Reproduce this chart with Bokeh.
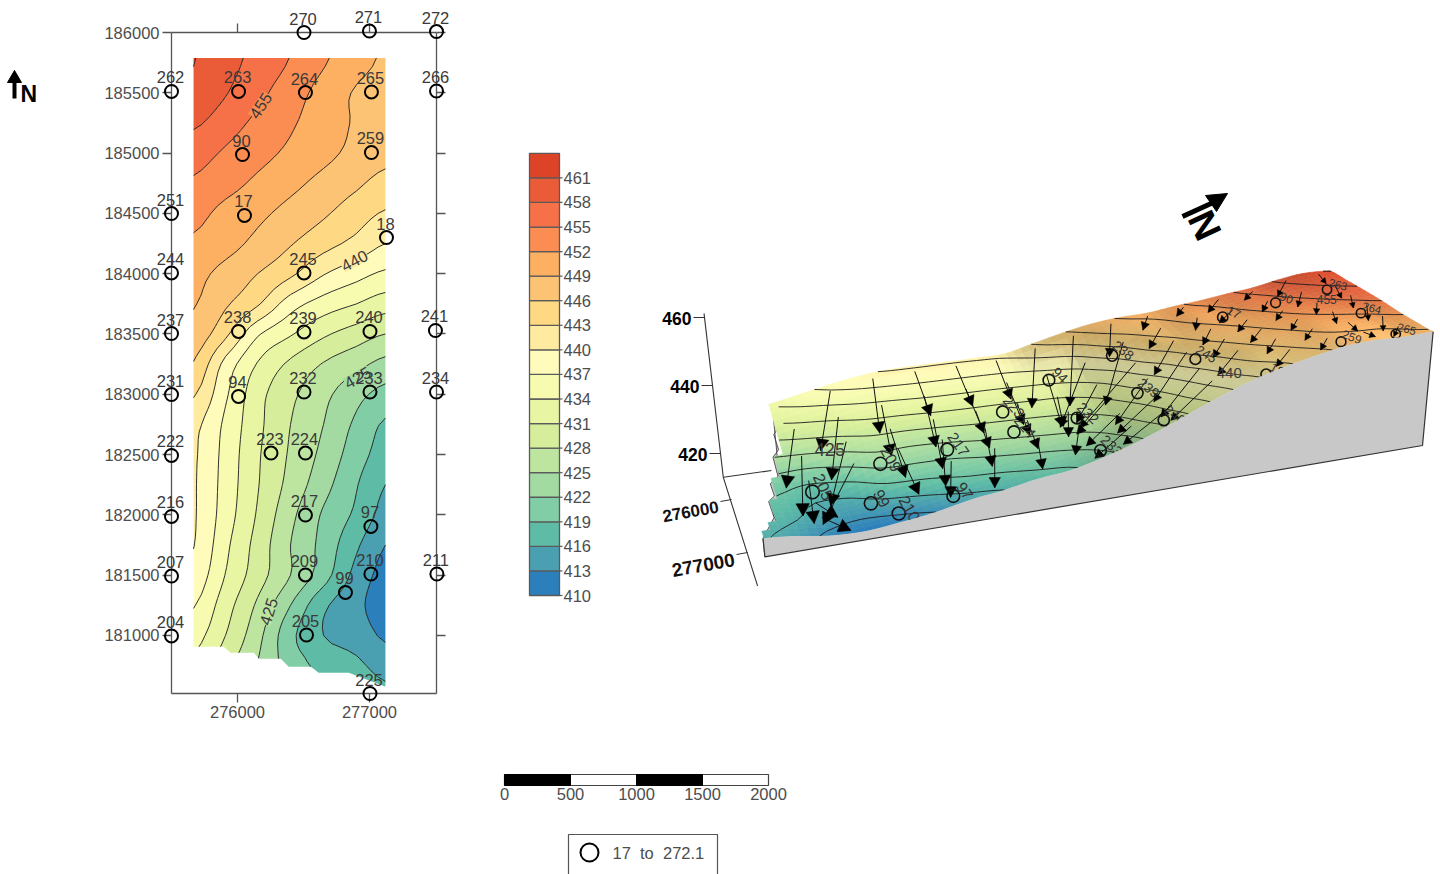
import numpy as np
from bokeh.core.properties import value
from bokeh.embed import file_html
from bokeh.layouts import column, row
from bokeh.models import BasicTickFormatter, FixedTicker, LinearAxis, Range1d
from bokeh.plotting import figure
from bokeh.plotting.contour import contour_data
from bokeh.resources import INLINE

# ---------- data ----------
grid_x = [275667, 275909, 276152, 276402, 276652, 276902, 277121]
grid_y = [185789, 185500, 185250, 185000, 184750, 184500, 184250, 184000, 183750, 183500, 183250,
          183000, 182750, 182500, 182250, 182000, 181750, 181500, 181250, 181000, 180750, 180519]
head_rows = [
    [461.1, 459.1, 457.1, 454.9, 452.4, 450.3, 448.6],
    [460.4, 458.2, 455.8, 453.4, 450.9, 448.7, 447.8],
    [458.5, 456.4, 454.3, 452.4, 450.4, 448.7, 447.7],
    [456.2, 454.6, 453.0, 451.4, 449.8, 448.2, 446.9],
    [454.6, 453.1, 451.4, 449.8, 448.1, 446.5, 445.0],
    [452.9, 451.1, 449.7, 448.0, 446.4, 444.4, 442.7],
    [451.5, 450.1, 448.2, 446.2, 444.1, 442.1, 440.0],
    [449.9, 448.0, 446.0, 443.6, 440.2, 438.1, 436.5],
    [449.2, 446.4, 443.4, 438.4, 435.7, 434.0, 432.4],
    [447.9, 443.7, 437.4, 434.3, 431.5, 429.6, 428.0],
    [445.8, 439.0, 433.8, 430.4, 427.8, 425.9, 424.1],
    [443.3, 437.5, 432.1, 428.7, 425.8, 423.0, 421.0],
    [440.8, 436.4, 431.8, 428.0, 425.0, 421.4, 418.6],
    [440.4, 436.0, 431.4, 427.6, 424.2, 420.4, 417.7],
    [440.3, 435.8, 431.2, 427.0, 423.1, 419.2, 416.0],
    [440.3, 435.5, 430.7, 425.8, 421.6, 418.4, 414.9],
    [440.1, 434.7, 429.9, 425.0, 421.0, 416.5, 413.0],
    [439.0, 433.9, 429.4, 425.0, 420.3, 415.0, 412.0],
    [437.2, 432.3, 427.5, 422.0, 416.6, 413.8, 411.4],
    [435.2, 431.0, 426.0, 419.8, 416.0, 414.7, 412.5],
    [433.3, 428.9, 424.8, 420.5, 418.2, 416.6, 415.0],
    [431.0, 427.0, 423.0, 419.5, 418.5, 417.5, 416.5],
]
blank_edge_x = [275667, 275894, 275947, 276121, 276159, 276326, 276386, 276553, 276614, 276841, 277121]
blank_edge_y = [180900, 180900, 180851, 180851, 180801, 180801, 180735, 180735, 180685, 180685, 180569]

well_names = ["262", "263", "264", "265", "266", "270", "271", "272", "90", "259", "251", "17", "18",
              "244", "245", "237", "238", "239", "240", "241", "231", "94", "232", "233", "234",
              "222", "223", "224", "216", "217", "97", "207", "209", "210", "211", "99", "204",
              "205", "225"]
well_x = [275500, 276008, 276515, 277015, 277508, 276504, 277000, 277508, 276038, 277015, 275500, 276053,
          277129, 275500, 276504, 275500, 276008, 276504, 277004, 277500, 275500, 276008, 276504, 277004,
          277508, 275500, 276254, 276515, 275500, 276515, 277011, 275500, 276515, 277011, 277511, 276818,
          275500, 276523, 277004]
well_y = [185511, 185511, 185502, 185507, 185515, 186000, 186012, 186008, 184988, 185005, 184499, 184483,
          184300, 184006, 184006, 183504, 183521, 183517, 183521, 183529, 182998, 182982, 183019, 183019,
          183019, 182493, 182513, 182513, 181987, 181999, 181904, 181493, 181502, 181510, 181510, 181357,
          180996, 181004, 180519]

contour_label_text = ["455", "440", "425", "425"]
contour_label_x = [276174, 276886, 276235, 276909]
contour_label_y = [185395, 184109, 181199, 183139]
contour_label_angle = [57, 28, 72, 30]
contour_label_bg = ["#fb8d52", "#feeb9f", "#bde5a0", "#a2daa2"]

levels = [410, 413, 416, 419, 422, 425, 428, 431, 434, 437, 440, 443, 446, 449, 452, 455, 458, 461, 464]
band_colors = ["#2b7fbb", "#4aa0b0", "#5ebca6", "#80cda6", "#a2daa2", "#bde5a0", "#d6ee9b", "#e8f6a3",
               "#f6fbb0", "#fffcbb", "#feeb9f", "#fed883", "#fdc374", "#fdaf62", "#fb8d52", "#f77148",
               "#ea5c38", "#dd4327"]
bar_labels = levels[:-1]

left_ticks = [181000, 181500, 182000, 182500, 183000, 183500, 184000, 184500, 185000, 185500, 186000]
bottom_ticks = [276000, 277000]
scale_ticks = [0, 500, 1000, 1500, 2000]
scale_black = [(0, 500), (1000, 1500)]
z_ticks = [420, 440, 460]
x3d_ticks = [276000, 277000]
arrow_tail_x = [275730, 275960, 276190, 276420, 276650, 276880]
arrow_tail_y = [181000, 181330, 181660, 181990, 182320, 182650, 182980, 183310, 183640, 183970,
                184300, 184630, 184960, 185290, 185620]
legend_text = "17\u00a0\u00a0to\u00a0\u00a0272.1"

FONT = value("Liberation Sans")
GREY = "#4d4d4d"
TXT = "16.5px"


# ---------- smoothing of the read grid for drawing ----------
def cr_axis(a, k):
    n = a.shape[0]
    s = np.linspace(0, n - 1, (n - 1) * k + 1)
    i = np.minimum(s.astype(int), n - 2)
    t = (s - i).reshape((-1,) + (1,) * (a.ndim - 1))
    p0, p1, p2, p3 = a[np.maximum(i - 1, 0)], a[i], a[i + 1], a[np.minimum(i + 2, n - 1)]
    return 0.5 * (2 * p1 + (p2 - p0) * t + (2 * p0 - 5 * p1 + 4 * p2 - p3) * t ** 2 + (3 * p1 - p0 - 3 * p2 + p3) * t ** 3)


K = 4
gx = np.array(grid_x, float)
gy = np.array(grid_y, float)[::-1]
gz = np.array(head_rows, float)[::-1]
fz = cr_axis(cr_axis(gz, K).T, K).T
fx = np.interp(np.linspace(0, len(gx) - 1, (len(gx) - 1) * K + 1), np.arange(len(gx)), gx)
fy = np.interp(np.linspace(0, len(gy) - 1, (len(gy) - 1) * K + 1), np.arange(len(gy)), gy)


def z_at(x, y):
    i = int(np.argmin(np.abs(fy - y)))
    j = int(np.argmin(np.abs(fx - x)))
    return fz[i, j]


def edge_at(x):
    return np.interp(x, blank_edge_x, blank_edge_y)


# ---------- oblique view of the surface ----------
XW, XE, YS, YN = gx[0], gx[-1], 180520.0, gy[-1]
Z0, ZS = 410.0, 2.95
C_SW, C_SE, C_NE, C_NW = (728, 483), (757, 558), (1422, 445), (1320, 421)


def project(x, y, z):
    u = (np.asarray(x, float) - XW) / (XE - XW)
    v0 = (np.asarray(y, float) - YS) / (YN - YS)
    v = v0 + 0.2 * v0 * (1 - v0)
    bx = (1 - u) * ((1 - v) * C_SW[0] + v * C_NW[0]) + u * ((1 - v) * C_SE[0] + v * C_NE[0])
    by = (1 - u) * ((1 - v) * C_SW[1] + v * C_NW[1]) + u * ((1 - v) * C_SE[1] + v * C_NE[1]) - 40 * v0 * (1 - v0)
    h = (np.asarray(z, float) - Z0) * ZS
    return bx + h * (bx - 1110) * 0.0003, by - h


def color_for(z, shade):
    rgb = np.array([[int(c[i:i + 2], 16) for i in (1, 3, 5)] for c in band_colors], float)
    centers = np.array(levels[:-1]) + 1.5
    c = [np.interp(z, centers, rgb[:, i]) * shade for i in range(3)]
    return "#%02x%02x%02x" % tuple(int(min(255, max(0, round(q)))) for q in c)


# ---------- left figure: plan map with real axes ----------
LEFT_W, PAGE_W, PAGE_H = 490, 1440, 874
p = figure(width=LEFT_W, height=PAGE_H, output_backend="svg", toolbar_location=None,
           x_range=Range1d(275500, 277508), y_range=Range1d(180519, 186000),
           min_border_left=171, min_border_right=LEFT_W - 436, min_border_top=32, min_border_bottom=PAGE_H - 693,
           x_axis_location=None, y_axis_location=None, outline_line_color=None,
           background_fill_color="white", border_fill_color="white")
p.grid.visible = False
p.extra_x_ranges = {"sx": Range1d(171, 436)}
p.extra_y_ranges = {"sy": Range1d(693, 32)}
SCL = dict(x_range_name="sx", y_range_name="sy", level="annotation")


def make_axis(ticks, labels=True, out=9):
    return LinearAxis(ticker=FixedTicker(ticks=ticks), formatter=BasicTickFormatter(use_scientific=False),
                      major_tick_in=0, major_tick_out=out, minor_tick_line_color=None,
                      axis_line_color="#555555", axis_line_width=1.3, major_tick_line_color="#555555",
                      major_tick_line_width=1.3, major_label_standoff=3,
                      major_label_text_font="Liberation Sans", major_label_text_font_size=TXT,
                      major_label_text_color=GREY if labels else None)


p.add_layout(make_axis(left_ticks), "left")
p.add_layout(make_axis(bottom_ticks), "below")
p.add_layout(make_axis(bottom_ticks, labels=False), "above")
p.add_layout(make_axis(left_ticks, labels=False), "right")

p.contour(fx, fy, fz, levels, fill_color=band_colors, line_color="#1a1a1a", line_width=0.9)
bx = blank_edge_x + [277121, 275667]
by = blank_edge_y + [180519, 180519]
p.patch(bx, by, fill_color="white", line_color="white", line_width=1.5)
p.text(contour_label_x, contour_label_y, text=contour_label_text, angle=contour_label_angle, angle_units="deg",
       text_font=FONT, text_font_size=TXT, text_color="#3a3a3a", text_align="center",
       text_baseline="middle", background_fill_color=contour_label_bg)
p.scatter(well_x, well_y, marker="circle", size=13, fill_color=None, line_color="black", line_width=2, level="annotation")
p.text(well_x, well_y, text=well_names, x_offset=-1, y_offset=-14, text_font=FONT, text_font_size=TXT,
       text_color="#3a3a3a", text_align="center", text_baseline="middle", level="annotation")

p.segment([14], [98], [14], [78], line_color="black", line_width=4, **SCL)
p.patch([14, 7, 21], [70, 82, 82], fill_color="black", line_color="black", **SCL)
p.text([20], [93], text=["N"], text_font=FONT, text_font_style="bold", text_font_size="23px", text_color="black",
       text_align="left", text_baseline="middle", **SCL)

# ---------- right figure: colour bar, scale, legend and the oblique view ----------
q = figure(width=PAGE_W - LEFT_W, height=PAGE_H, output_backend="svg", toolbar_location=None,
           x_range=Range1d(LEFT_W, PAGE_W), y_range=Range1d(PAGE_H, 0),
           min_border=0, x_axis_location=None, y_axis_location=None, outline_line_color=None,
           background_fill_color="white", border_fill_color="white")
q.grid.visible = False
q.extra_x_ranges = {"scale": Range1d((LEFT_W - 504) / 0.132, (PAGE_W - 504) / 0.132)}
q.extra_y_ranges = {"bar": Range1d(410 + (595 - PAGE_H) * 51 / 417.6, 410 + 595 * 51 / 417.6)}

# colour bar
bar = dict(y_range_name="bar")
q.quad(left=[529] * 18, right=[559] * 18, bottom=levels[:-1], top=levels[1:], fill_color=band_colors,
       line_color="#5a5a5a", line_width=1.3, **bar)
q.segment([559] * 18, bar_labels, [562] * 18, bar_labels, line_color="#5a5a5a", line_width=1.2, **bar)
q.text([563] * 18, bar_labels, text=[str(v) for v in bar_labels], text_font=FONT, text_font_size=TXT,
       text_color=GREY, text_align="left", text_baseline="middle", **bar)

# scale bar
scale = dict(x_range_name="scale")
q.quad(left=[0], right=[2000], bottom=[785], top=[774], fill_color="white", line_color="#444444", line_width=1.2, **scale)
q.quad(left=[a for a, b in scale_black], right=[b for a, b in scale_black], bottom=[785, 785], top=[774, 774],
       fill_color="black", line_color="black", **scale)
q.text(scale_ticks, [793] * 5, text=[str(v) for v in scale_ticks], text_font=FONT, text_font_size=TXT,
       text_color=GREY, text_align="center", text_baseline="middle", **scale)

# symbol legend
q.multi_line([[568, 568, 717, 717]], [[874, 834, 834, 874]], line_color="#555555", line_width=1.2)
q.scatter([589], [852], marker="circle", size=18, fill_color=None, line_color="black", line_width=2)
q.text([612], [852], text=[legend_text], text_font=FONT, text_font_size=TXT, text_color=GREY,
       text_align="left", text_baseline="middle")

# oblique view: axes
zax = lambda z: (704 + (460 - z) * 0.4, 317 + (460 - z) * 3.4)
xax = lambda x: (731 + (x - 276000) * 0.016, 499 + (x - 276000) * 0.053)
fx0, fy0 = zax(413)
tx, ty = zax(461.2)
ex, ey = xax(277630)
q.multi_line([[tx, fx0, ex], [fx0, 771]], [[ty, fy0, ey], [fy0, 470]], line_color="#333333", line_width=1.1)
zp = [zax(z) for z in z_ticks]
q.segment([a for a, b in zp], [b for a, b in zp], [a - 11 for a, b in zp], [b for a, b in zp], line_color="#333333")
q.text([a - 13 for a, b in zp], [b + 1 for a, b in zp], text=[str(z) for z in z_ticks], text_font=FONT,
       text_font_style="bold", text_font_size="17.5px", text_color="black", text_align="right", text_baseline="middle")
xp = [xax(x) for x in x3d_ticks]
q.segment([a for a, b in xp], [b for a, b in xp], [a - 11 for a, b in xp], [b + 2 for a, b in xp], line_color="#333333")
q.text([a - 13 for a, b in xp], [b + 7 for a, b in xp], text=[str(x) for x in x3d_ticks], angle=[10, 10], angle_units="deg",
       text_font=FONT, text_font_style="bold", text_font_size=["17px", "19px"], text_color="#111111", text_align="right",
       text_baseline="middle")

# oblique view: south wall
ez = [z_at(a, b) for a, b in zip(blank_edge_x, blank_edge_y)]
tx_, ty_ = project(blank_edge_x, blank_edge_y, ez)
bx_, by_ = project(blank_edge_x, blank_edge_y, [Z0] * len(ez))
q.patch(list(tx_) + list(bx_[::-1]), list(ty_) + list(by_[::-1]), fill_color="#c8c8c8", line_color="#333333", line_width=0.8)

# oblique view: surface
dzdy = np.gradient(fz, fy, axis=0)
qx, qy, qc = [], [], []
for i in range(len(fy) - 2, -1, -1):
    for j in range(len(fx) - 1):
        xm, ym = 0.5 * (fx[j] + fx[j + 1]), 0.5 * (fy[i] + fy[i + 1])
        if ym < edge_at(xm):
            continue
        xs = [fx[j], fx[j + 1], fx[j + 1], fx[j]]
        ys = [fy[i], fy[i], fy[i + 1], fy[i + 1]]
        zs = [fz[i, j], fz[i, j + 1], fz[i + 1, j + 1], fz[i + 1, j]]
        a, b = project(xs, ys, zs)
        qx.append(list(a))
        qy.append(list(b))
        vm = (ym - YS) / (YN - YS)
        fade = float(np.clip((vm - 0.3) / 0.2, 0, 1))
        shade = 1 - fade * float(np.clip(17 * max(dzdy[i, j], 0), 0, 0.2))
        qc.append(color_for(float(np.mean(zs)), shade))
q.patches(qx, qy, fill_color=qc, line_color=qc, line_width=0.6)

# oblique view: contour lines on the surface
cd = contour_data(fx, fy, fz, levels=levels, want_fill=False, want_line=True)
lx, ly = [], []
for lev, xs, ys in zip(levels, cd.line_data.xs, cd.line_data.ys):
    xs, ys = np.asarray(xs, float), np.asarray(ys, float)
    if xs.size == 0:
        continue
    for seg in np.split(np.column_stack([xs, ys]), np.where(np.isnan(xs))[0]):
        seg = seg[~np.isnan(seg[:, 0])]
        keep = [w for w in seg if w[1] >= edge_at(w[0])]
        if len(keep) < 2:
            continue
        keep = np.array(keep)
        a, b = project(keep[:, 0], keep[:, 1], [lev] * len(keep))
        lx.append(list(a))
        ly.append(list(b))
q.multi_line(lx, ly, line_color="#1c1c1c", line_width=0.9)

# oblique view: flow arrows following the downhill gradient
dzdx = np.gradient(fz, fx, axis=1)
a0x, a0y, a1x, a1y, hx, hy = [], [], [], [], [], []
for ax_ in arrow_tail_x:
    for ay_ in arrow_tail_y:
        if ay_ < edge_at(ax_) + 40:
            continue
        i, j = int(np.argmin(np.abs(fy - ay_))), int(np.argmin(np.abs(fx - ax_)))
        gxv, gyv = dzdx[i, j], dzdy[i, j]
        x1, y1 = ax_ - 26000 * gxv, ay_ - 26000 * gyv
        if x1 > XE - 20 or y1 < edge_at(x1) + 20:
            continue
        s0 = project(ax_, ay_, fz[i, j])
        s1 = project(x1, y1, z_at(x1, y1))
        a0x.append(float(s0[0]))
        a0y.append(float(s0[1]))
        a1x.append(float(s1[0]))
        a1y.append(float(s1[1]))
        v = (ay_ - YS) / (YN - YS)
        size = 13 - 8 * v
        d = np.array([s1[0] - s0[0], s1[1] - s0[1]], float)
        d /= max(np.hypot(*d), 1e-6)
        n = np.array([-d[1], d[0]])
        tip = np.array([s1[0], s1[1]], float)
        l, r = tip - d * size + n * size * 0.55, tip - d * size - n * size * 0.55
        hx.append([tip[0], l[0], r[0]])
        hy.append([tip[1], l[1], r[1]])
q.segment(a0x, a0y, a1x, a1y, line_color="#111111", line_width=1)
q.patches(hx, hy, fill_color="black", line_color="black", line_width=0.5)

# oblique view: wells and their labels
wx, wy, wsize, wnames, wang, wfont = [], [], [], [], [], []
for nm, x0, y0 in zip(well_names, well_x, well_y):
    if x0 < XW or x0 > XE + 10 or y0 > YN or y0 < 180600:
        continue
    a, b = project(x0, y0, z_at(x0, y0))
    v = (y0 - YS) / (YN - YS)
    wx.append(float(a))
    wy.append(float(b))
    wsize.append(14 - 5 * v)
    wnames.append(nm)
    wang.append(-72 + 60 * v)
    wfont.append("%.1fpx" % (17 - 6 * v))
q.scatter(wx, wy, marker="circle", size=wsize, fill_color=None, line_color="#111111", line_width=1.6)
q.text([a + 11 for a in wx], [b - 5 for b in wy], text=wnames, angle=wang, angle_units="deg", text_font=FONT,
       text_font_size=wfont, text_color="#333333", text_align="center", text_baseline="middle")

# oblique view: contour labels
clx, cly = project(contour_label_x, contour_label_y,
                   [z_at(a, b) for a, b in zip(contour_label_x, contour_label_y)])
q.text(list(clx)[:3], list(cly)[:3], text=contour_label_text[:3], text_font=FONT,
       text_font_size=["12px", "15px", "18px"], text_color="#3a3a3a", text_align="center", text_baseline="middle")

# oblique view: east wall
wall_y = [180569] + list(fy[fy > 180569])
wall_z = [z_at(XE, y) for y in wall_y]
tx2, ty2 = project([XE] * len(wall_y), wall_y, wall_z)
b0 = project(XE, 180569, Z0)
b1 = project(XE, YN, Z0)
q.patch(list(tx2) + [float(b1[0]), float(b0[0])], list(ty2) + [float(b1[1]), float(b0[1])],
        fill_color="#c8c8c8", line_color=None)
q.multi_line([[float(tx2[0]), float(b0[0]), float(b1[0]), float(tx2[-1])]],
             [[float(ty2[0]), float(b0[1]), float(b1[1]), float(ty2[-1])]],
             line_color="#333333", line_width=1.2)

# oblique view: north mark
q.segment([1182], [216], [1215], [201], line_color="black", line_width=5)
q.patch([1227, 1205, 1216], [193, 195, 211], fill_color="black", line_color="black")
q.text([1204], [225], text=["N"], angle=[-65], angle_units="deg", text_font=FONT, text_font_style="bold",
       text_font_size="38px", text_color="black", text_align="center", text_baseline="middle")

open("out.html", "w").write(file_html(row(column(p), column(q), spacing=0), INLINE))
